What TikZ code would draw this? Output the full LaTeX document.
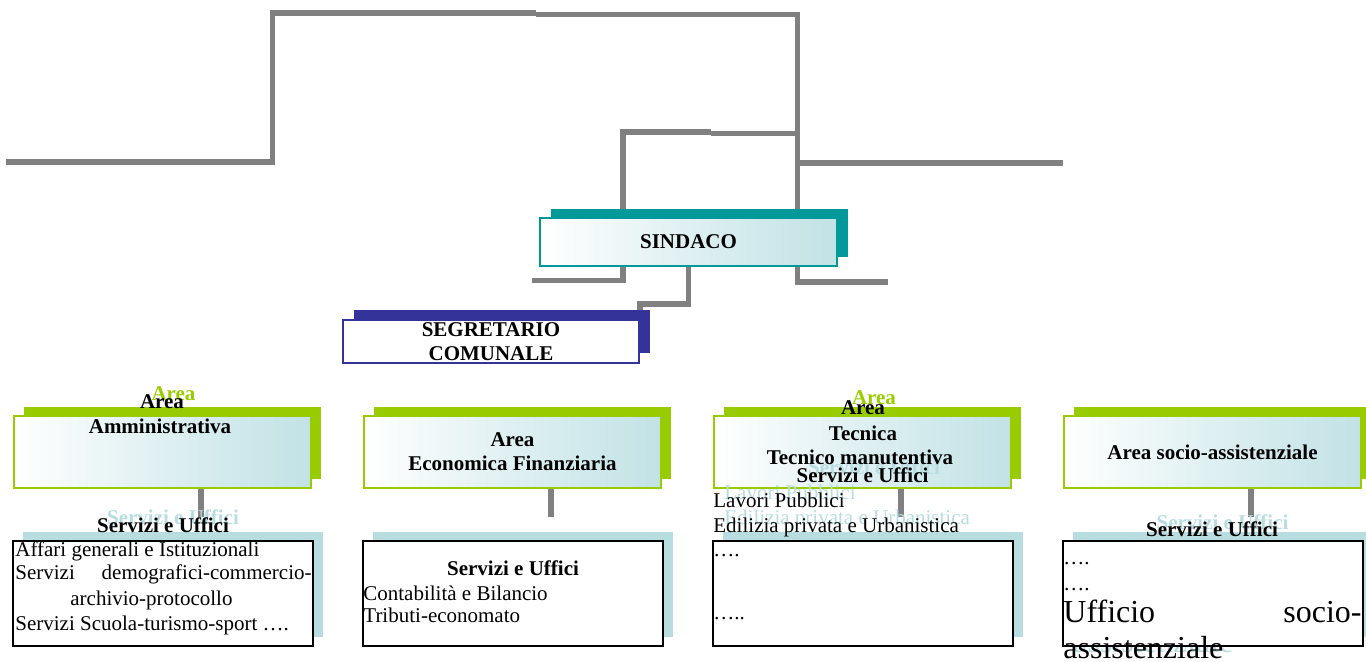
\documentclass[tikz,border=0pt]{standalone}
\usepackage{fontspec}
\setmainfont{Liberation Serif}
\usetikzlibrary{shadows,backgrounds}
\definecolor{wiregray}{RGB}{128,128,128}
\definecolor{tealbox}{RGB}{0,153,153}
\definecolor{navybox}{RGB}{51,51,153}
\definecolor{leafgreen}{RGB}{153,204,0}
\definecolor{paleblue}{RGB}{183,221,225}
\newcommand\corpo{\fontsize{10.5}{12}\selectfont}
\newcommand\corpogrande{\fontsize{16}{17.5}\selectfont}
\begin{document}
\begin{tikzpicture}[x=0.5pt,y=-0.5pt,line join=miter,
		wire/.style={draw=wiregray,line width=2.8pt},
		sfumato/.style={left color=white,right color=paleblue!85,middle color=paleblue!45},
		topbox/.style={draw=tealbox,line width=1pt,sfumato,minimum width=148.5pt,minimum height=24pt,inner sep=0pt,font=\corpo\bfseries,general shadow={fill=tealbox,shadow xshift=5.5pt,shadow yshift=4.5pt}},
		segbox/.style={draw=navybox,line width=1pt,fill=white,minimum width=148pt,minimum height=21.5pt,inner sep=0pt,align=center,font=\corpo\bfseries,general shadow={fill=navybox,shadow xshift=5.25pt,shadow yshift=5pt}},
		areabox/.style={draw=leafgreen,line width=1pt,sfumato,minimum width=148.5pt,minimum height=36pt,inner sep=0pt,align=center,font=\corpo\bfseries,general shadow={fill=leafgreen,shadow xshift=5pt,shadow yshift=4.5pt}},
		uffbox/.style={draw=black,line width=1pt,fill=white,minimum width=150pt,minimum height=52.5pt,inner sep=0pt,general shadow={fill=paleblue,shadow xshift=5pt,shadow yshift=4.5pt}},
		titolo/.style={anchor=base,inner sep=0pt,font=\corpo\bfseries},
		voce/.style={anchor=base west,inner sep=0pt,font=\corpo},
		ombra/.style={text=paleblue},
		ombraverde/.style={text=leafgreen}]
	\useasboundingbox (0,0) rectangle (1366,662);
	\node[topbox] (sindaco) at (688.5,242) {SINDACO};
	\node[segbox] (segretario) at (491,341.5) {SEGRETARIO\\COMUNALE};
	\node[areabox] (amm) at (162.5,452) {};
	\node[areabox] (eco) at (512.5,452) {Area\\Economica Finanziaria};
	\node[areabox] (tec) at (862.5,452) {};
	\node[areabox] (soc) at (1212.5,452) {Area socio-assistenziale};
	\node[titolo,ombraverde] at (173.5,401) {Area};
	\node[titolo,ombraverde] at (874,405) {Area};
	\node[titolo,ombra] at (173,524) {Servizi e Uffici};
	\node[titolo,ombra] at (874,475) {Servizi e Uffici};
	\node[voce,ombra] at (724,500) {Lavori Pubblici};
	\node[voce,ombra] at (724,524) {Edilizia privata e Urbanistica};
	\node[titolo,ombra] at (1222.5,530) {Servizi e Uffici};
	\node[voce,ombra,font=\corpogrande] at (1073,652) {assistenziale};
	\foreach \n/\x in {uamm/163,ueco/513,utec/863,usoc/1212.5}
		\node[uffbox] (\n) at (\x,593.5) {};
	\begin{scope}[on background layer]
		\draw[wire] (6,162)--(272.5,162)--(272.5,13)--(536,13);
		\draw[wire] (536,14.5)--(797.5,14.5)--(797.5,282)--(888,282);
		\draw[wire] (797.5,163)--(1063,163);
		\draw[wire] (532,280.5)--(623,280.5)--(623,132)--(711,132);
		\draw[wire] (711,133.5)--(797.5,133.5);
		\draw[wire] (sindaco.south) --++(0,37) -| (segretario.north east);
		\foreach \n in {amm,eco,tec,soc}
			\draw[wire] (\n.south) ++(38.5,0) --++(0,28);
	\end{scope}
	\node[titolo] at (162,409) {Area};
	\node[titolo] at (160,434) {Amministrativa};
	\node[titolo] at (863,415) {Area};
	\node[titolo] at (863,441) {Tecnica};
	\node[titolo] at (860,465) {Tecnico manutentiva};
	\node[titolo] at (862.5,483) {Servizi e Uffici};
	\node[voce] at (713,508) {Lavori Pubblici};
	\node[voce] at (713,532) {Edilizia privata e Urbanistica};
	\node[titolo] at (163,532) {Servizi e Uffici};
	\node[voce] at (15,557) {Affari generali e Istituzionali};
	\node[voce] at (15,580) {Servizi};
	\node[voce,anchor=base east] at (312,580) {demografici-commercio-};
	\node[voce] at (70,605) {archivio-protocollo};
	\node[voce] at (15,630) {Servizi Scuola-turismo-sport ….};
	\node[titolo] at (513,575) {Servizi e Uffici};
	\node[voce] at (363,600) {Contabilità e Bilancio};
	\node[voce] at (363,623) {Tributi-economato};
	\node[voce] at (713,557) {….};
	\node[voce] at (713,619) {…..};
	\node[titolo] at (1212,537) {Servizi e Uffici};
	\node[voce] at (1063,565) {….};
	\node[voce] at (1063,590) {….};
	\node[voce,font=\corpogrande] at (1063,623) {Ufficio};
	\node[voce,anchor=base east,font=\corpogrande] at (1362,623) {socio-};
	\node[voce,font=\corpogrande] at (1063,658) {assistenziale};
\end{tikzpicture}
\end{document}
